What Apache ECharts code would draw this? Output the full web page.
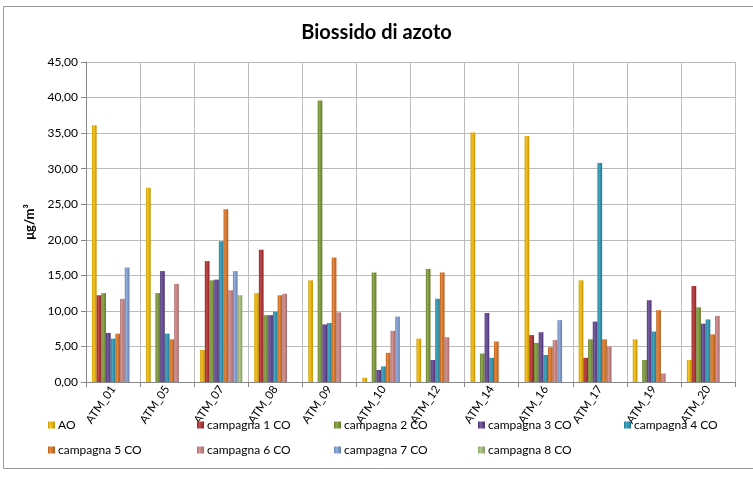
<!DOCTYPE html>
<html>
<head>
<meta charset="utf-8">
<script src="https://cdn.jsdelivr.net/npm/echarts@6/dist/echarts.min.js"></script>
<style>
  html, body { margin: 0; padding: 0; background: #fff; }
  #chart { width: 753px; height: 494px; }
</style>
</head>
<body>
<div id="chart"></div>
<script>
// categorie (stazioni)
var categories = ["ATM_01", "ATM_05", "ATM_07", "ATM_08", "ATM_09", "ATM_10",
  "ATM_12", "ATM_14", "ATM_16", "ATM_17", "ATM_19", "ATM_20"];

// valori, null = nessun dato
var ao   = [36.1, 27.3, 4.5, 12.5, 14.3, 0.6, 6.1, 35.1, 34.6, 14.3, 6.0, 3.1];
var c1   = [12.2, null, 17.0, 18.6, null, null, null, null, 6.6, 3.4, null, 13.5];
var c2   = [12.5, 12.5, 14.3, 9.4, 39.6, 15.4, 15.9, 4.0, 5.5, 6.0, 3.1, 10.5];
var c3   = [6.9, 15.6, 14.4, 9.4, 8.1, 1.7, 3.1, 9.7, 7.0, 8.5, 11.5, 8.2];
var c4   = [6.1, 6.8, 19.8, 9.9, 8.3, 2.2, 11.7, 3.4, 3.8, 30.8, 7.1, 8.8];
var c5   = [6.8, 6.0, 24.3, 12.2, 17.5, 4.1, 15.4, 5.7, 4.9, 6.0, 10.1, 6.7];
var c6   = [11.7, 13.8, 12.9, 12.4, 9.8, 7.2, 6.3, null, 5.9, 5.0, 1.2, 9.3];
var c7   = [16.1, null, 15.6, null, null, 9.2, null, null, 8.7, null, null, null];
var c8   = [null, null, 12.2, null, null, null, null, null, null, null, null, null];

var seriesNames = ["AO", "campagna 1 CO", "campagna 2 CO", "campagna 3 CO", "campagna 4 CO",
  "campagna 5 CO", "campagna 6 CO", "campagna 7 CO", "campagna 8 CO"];
var seriesData = [ao, c1, c2, c3, c4, c5, c6, c7, c8];
var colors = ["#F2B800", "#B22A2C", "#7A9A32", "#5F3F8F", "#2596B4",
  "#E0731E", "#CD8282", "#7F9ED6", "#A6C07A"];

var font = "Lato, 'Open Sans', sans-serif";

// posizioni legenda (due righe come in Excel)
var legendPos = [
  [43, 414], [192, 414], [329, 414], [473, 414], [619, 414],
  [43, 439], [192, 439], [329, 439], [473, 439]
];

function shade(hex, f) {
  var n = parseInt(hex.slice(1), 16);
  var r = (n >> 16) & 255, g = (n >> 8) & 255, b = n & 255;
  function c(v) { return Math.max(0, Math.min(255, Math.round(f > 0 ? v + (255 - v) * f : v * (1 + f)))); }
  return "rgb(" + c(r) + "," + c(g) + "," + c(b) + ")";
}

var series = seriesNames.map(function (name, i) {
  return {
    name: name,
    type: "bar",
    data: seriesData[i],
    barGap: "0%",
    barCategoryGap: "22%",
    itemStyle: {
      color: new echarts.graphic.LinearGradient(0, 0, 1, 0, [
        { offset: 0, color: shade(colors[i], -0.15) },
        { offset: 0.35, color: shade(colors[i], 0.15) },
        { offset: 1, color: shade(colors[i], -0.2) }
      ])
    }
  };
});

var legends = seriesNames.map(function (name, i) {
  return {
    data: [name],
    left: legendPos[i][0],
    top: legendPos[i][1],
    icon: "rect",
    itemWidth: 7,
    itemHeight: 7,
    itemGap: 3,
    selectedMode: false,
    textStyle: { fontFamily: font, fontSize: 12, color: "#000", padding: [0, 0, 0, -2] }
  };
});

var chart = echarts.init(document.getElementById("chart"));
chart.setOption({
  animation: false,
  color: colors,
  title: {
    text: "Biossido di azoto",
    left: "center",
    top: 18,
    textStyle: { fontFamily: font, fontSize: 20, fontWeight: "bold", color: "#000" }
  },
  legend: legends,
  grid: { left: 86, right: 18, top: 62, bottom: 112 },
  xAxis: {
    type: "category",
    data: categories,
    axisLine: { lineStyle: { color: "#888" } },
    axisTick: { show: true, interval: 0, lineStyle: { color: "#888" } },
    splitLine: { show: true, interval: 0, lineStyle: { color: "#bbb" } },
    axisLabel: {
      interval: 0, rotate: 55, margin: 5, fontFamily: font, fontSize: 11.5, color: "#000",
      hideOverlap: false
    }
  },
  yAxis: {
    type: "value",
    min: 0,
    max: 45,
    interval: 5,
    name: "\u03bcg/m\u00b3",
    nameLocation: "middle",
    nameGap: 50,
    nameTextStyle: { fontFamily: font, fontSize: 13, fontWeight: "bold", color: "#000" },
    axisLine: { show: true, lineStyle: { color: "#888" } },
    axisTick: { show: true, lineStyle: { color: "#888" } },
    splitLine: { lineStyle: { color: "#bbb" } },
    axisLabel: {
      fontFamily: font, fontSize: 12, color: "#000",
      formatter: function (v) { return v.toFixed(2).replace(".", ","); }
    }
  },
  graphic: [{
    type: "rect",
    shape: { x: 3.5, y: 6.5, width: 760, height: 462 },
    style: { fill: null, stroke: "#999", lineWidth: 1 },
    silent: true
  }],
  series: series
});
</script>
</body>
</html>
